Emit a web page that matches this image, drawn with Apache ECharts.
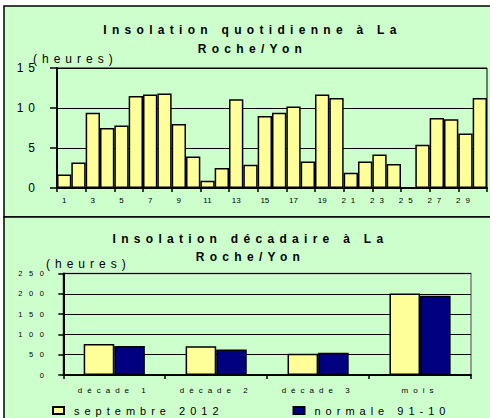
<!DOCTYPE html>
<html>
<head>
<meta charset="utf-8">
<script src="https://cdn.jsdelivr.net/npm/echarts@6/dist/echarts.min.js"></script>
<style>
html,body{margin:0;padding:0;background:#fff;}
#c{width:490px;height:418px;}
</style>
</head>
<body>
<div id="c"></div>
<script>
const dayLabels = ['1','2','3','4','5','6','7','8','9','10','11','12','13','14','15','16','17','18','19','20','21','22','23','24','25','26','27','28','29','30'];
const dailyHours = [1.7, 3.2, 9.4, 7.5, 7.8, 11.5, 11.7, 11.8, 8.0, 3.95, 0.9, 2.5, 11.1, 2.9, 9.0, 9.4, 10.2, 3.3, 11.7, 11.25, 1.9, 3.3, 4.2, 3.0, 0, 5.4, 8.75, 8.6, 6.8, 11.25];
const decadeLabels = ['décade 1', 'décade 2', 'décade 3', 'mois'];
const sept2012 = [76.5, 71, 52.5, 201];
const normale9110 = [71.5, 63, 55, 195];
const seriesNames = ['septembre 2012', 'normale 91-10'];
const titles = ['Insolation quotidienne à La\nRoche/Yon', 'Insolation décadaire à La\nRoche/Yon'];
const unitLabel = '(heures)';

const FONT = "'Liberation Sans', Arial, sans-serif";
const GREEN = '#CCFFCC';
const YELLOW = '#FFFF99';
const NAVY = '#000080';

const chart = echarts.init(document.getElementById('c'), null, {renderer: 'svg', width: 490, height: 418});

const option = {
  animation: false,
  backgroundColor: '#fff',
  textStyle: {fontFamily: FONT, color: '#000'},
  title: [
    {text: titles[0], left: 252.5, top: 20, padding: 0, textAlign: 'center',
     textStyle: {fontFamily: FONT, fontSize: 12, fontWeight: 'bold', color: '#000', lineHeight: 19}},
    {text: titles[1], left: 250.5, top: 230.5, padding: 0, textAlign: 'center',
     textStyle: {fontFamily: FONT, fontSize: 12, fontWeight: 'bold', color: '#000', lineHeight: 17.5}}
  ],
  graphic: [
    {type: 'rect', z: -10, shape: {x: 4, y: 6, width: 600, height: 211},
     style: {fill: GREEN, stroke: '#000', lineWidth: 1.5}},
    {type: 'rect', z: -10, shape: {x: 4, y: 217, width: 600, height: 300},
     style: {fill: GREEN, stroke: '#000', lineWidth: 1.5}},
    {type: 'text', z: 10, x: 33, y: 58.5,
     style: {text: unitLabel, fontFamily: FONT, fontSize: 12, fill: '#000', verticalAlign: 'middle'}},
    {type: 'text', z: 10, x: 46, y: 263.5,
     style: {text: unitLabel, fontFamily: FONT, fontSize: 12, fill: '#000', verticalAlign: 'middle'}}
  ],
  legend: {
    data: seriesNames,
    left: 47, top: 400,
    itemWidth: 11, itemHeight: 7, itemGap: 139,
    icon: 'rect',
    textStyle: {fontFamily: FONT, fontSize: 11, color: '#000', padding: [0, 0, 0, 5]}
  },
  grid: [
    {left: 57, top: 68, width: 430, height: 120, show: true, borderColor: '#000', borderWidth: 1, backgroundColor: 'transparent'},
    {left: 63.3, top: 273.5, width: 407.7, height: 101.5, show: true, borderColor: '#808080', borderWidth: 1.5, backgroundColor: 'transparent'}
  ],
  xAxis: [
    {type: 'category', gridIndex: 0, data: dayLabels,
     axisLine: {lineStyle: {color: '#000', width: 2}},
     axisTick: {show: true, interval: 1, length: 4, lineStyle: {color: '#000', width: 1.5}},
     axisLabel: {interval: 1, fontSize: 8, color: '#000', margin: 8, fontFamily: FONT},
     splitLine: {show: false}},
    {type: 'category', gridIndex: 1, data: decadeLabels,
     axisLine: {lineStyle: {color: '#000', width: 2}},
     axisTick: {show: true, length: 4, lineStyle: {color: '#000', width: 1.5}},
     axisLabel: {fontSize: 8, color: '#000', margin: 11, fontFamily: FONT},
     splitLine: {show: false}}
  ],
  yAxis: [
    {type: 'value', gridIndex: 0, min: 0, max: 15, interval: 5,
     axisLine: {show: true, lineStyle: {color: '#000', width: 2}},
     axisTick: {show: true, length: 7, lineStyle: {color: '#000', width: 1.5}},
     axisLabel: {fontSize: 12, color: '#000', margin: 17, fontFamily: FONT},
     splitLine: {show: true, lineStyle: {color: '#000', width: 1}}},
    {type: 'value', gridIndex: 1, min: 0, max: 250, interval: 50,
     axisLine: {show: true, lineStyle: {color: '#000', width: 2}},
     axisTick: {show: true, length: 5, lineStyle: {color: '#000', width: 1.5}},
     axisLabel: {fontSize: 7.5, color: '#000', margin: 13, fontFamily: FONT},
     splitLine: {show: true, lineStyle: {color: '#000', width: 1}}}
  ],
  series: [
    {name: 'insolation quotidienne', type: 'bar', xAxisIndex: 0, yAxisIndex: 0,
     data: dailyHours, barCategoryGap: '0%',
     itemStyle: {color: YELLOW, borderColor: '#000', borderWidth: 1.5}},
    {name: seriesNames[0], type: 'bar', xAxisIndex: 1, yAxisIndex: 1,
     data: sept2012, barGap: '0%', barCategoryGap: '40%',
     itemStyle: {color: YELLOW, borderColor: '#000', borderWidth: 1.5}},
    {name: seriesNames[1], type: 'bar', xAxisIndex: 1, yAxisIndex: 1,
     data: normale9110, barGap: '0%', barCategoryGap: '40%',
     itemStyle: {color: NAVY, borderColor: '#000', borderWidth: 1.5}}
  ]
};

chart.setOption(option);

function applySpacing() {
  const texts = document.querySelectorAll('#c svg text');
  texts.forEach(t => {
    const s = t.textContent.trim();
    const fs = parseFloat(getComputedStyle(t).fontSize) || 12;
    let ls = 0;
    if (/Insolation|Roche/.test(s)) ls = 5.3;
    else if (s === unitLabel) ls = 5;
    else if (/^\d+$/.test(s)) {
      const n = +s;
      if (fs >= 11) ls = 5;
      else if (fs < 7.8) ls = 6.5;
      else ls = n >= 21 ? 5 : 0;
    } else ls = 5;
    t.setAttribute('letter-spacing', ls);
  });
}
applySpacing();
chart.on('finished', applySpacing);
setTimeout(applySpacing, 0);
setTimeout(applySpacing, 50);
</script>
</body>
</html>
